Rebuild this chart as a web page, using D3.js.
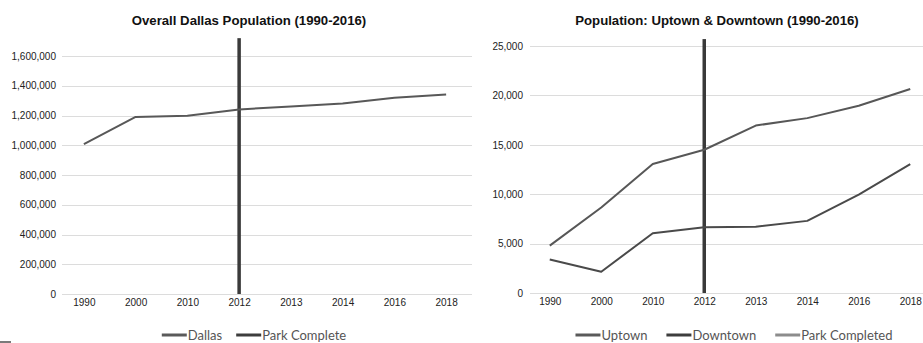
<!DOCTYPE html>
<html>
<head>
<meta charset="utf-8">
<script src="https://cdn.jsdelivr.net/npm/d3@7"></script>
<style>
  html, body { margin: 0; padding: 0; background: #fff; }
  svg { display: block; }
</style>
</head>
<body>
<svg id="chart" width="923" height="343"></svg>
<script>
// Census years shown on both panels
const years = ["1990", "2000", "2010", "2012", "2013", "2014", "2016", "2018"];

// City-wide population
const dallas = [1008000, 1190000, 1198000, 1241000, 1260000, 1280000, 1320000, 1342000];

// Neighbourhood populations
const uptown = [4800, 8650, 13050, 14500, 16950, 17700, 18950, 20650];
const downtown = [3400, 2150, 6050, 6650, 6700, 7300, 9950, 13050];

// Year the park opened, drawn as a tall marker line
const parkYear = "2012";
const parkLeft = 1720000;
const parkRight = 25700;

// Axis tick values
const leftTicks = [0, 200000, 400000, 600000, 800000, 1000000, 1200000, 1400000, 1600000];
const rightTicks = [0, 5000, 10000, 15000, 20000, 25000];

const svg = d3.select("#chart");
const fmt = d3.format(",");
const axisFont = "'Liberation Sans', Arial, sans-serif";
const legendFont = "Lato, 'Open Sans', sans-serif";

// small mark in the lower-left corner
svg.append("rect").attr("x", 0).attr("y", 341).attr("width", 11).attr("height", 2).attr("fill", "#7a7a7a");

function panel(cfg) {
  const x = d3.scalePoint().domain(years).range(cfg.xRange).padding(0.5);
  const y = d3.scaleLinear().domain(cfg.yDomain).range(cfg.yRange);
  const g = svg.append("g");

  // gridlines
  g.append("g").selectAll("line").data(cfg.ticks).join("line")
    .attr("x1", cfg.gridX[0]).attr("x2", cfg.gridX[1])
    .attr("y1", d => Math.round(y(d)) + 0.5).attr("y2", d => Math.round(y(d)) + 0.5)
    .attr("stroke", "#dcdcdc").attr("stroke-width", 1);

  // y axis labels
  const yAxis = d3.axisLeft(y).tickValues(cfg.ticks).tickFormat(fmt).tickSize(0).tickPadding(0);
  const ya = g.append("g").attr("transform", `translate(${cfg.labelX},0)`).call(yAxis);
  ya.select(".domain").remove();
  ya.selectAll("text").attr("font-family", axisFont).attr("font-size", 10).attr("fill", "#222");

  // x axis labels
  const xAxis = d3.axisBottom(x).tickSize(0).tickPadding(0);
  const xa = g.append("g").attr("transform", `translate(0,${cfg.yRange[0] + 5})`).call(xAxis);
  xa.select(".domain").remove();
  xa.selectAll("text").attr("font-family", axisFont).attr("font-size", 10).attr("fill", "#222");

  // park completion marker
  g.append("line")
    .attr("x1", x(parkYear)).attr("x2", x(parkYear))
    .attr("y1", y(0)).attr("y2", y(cfg.park))
    .attr("stroke", "#3a3a3a").attr("stroke-width", 3.5);

  // data series
  const line = d3.line().x((d, i) => x(years[i])).y(d => y(d));
  cfg.series.forEach(s => {
    g.append("path").datum(s.values)
      .attr("d", line)
      .attr("fill", "none").attr("stroke", s.color).attr("stroke-width", 2)
      .attr("stroke-linejoin", "round");
  });

  // title
  g.append("text")
    .attr("x", cfg.titleX).attr("y", 25)
    .attr("text-anchor", "middle")
    .attr("font-family", axisFont).attr("font-weight", "bold").attr("font-size", 13.2)
    .attr("fill", "#111")
    .text(cfg.title);

  // legend
  const lg = g.append("g");
  let cx = 0;
  cfg.legend.forEach(item => {
    const it = lg.append("g").attr("transform", `translate(${cx},0)`);
    it.append("line").attr("x1", 0).attr("x2", 25).attr("y1", 0).attr("y2", 0)
      .attr("stroke", item.color).attr("stroke-width", 3);
    const t = it.append("text").attr("x", 26).attr("y", 5)
      .attr("font-family", legendFont).attr("font-size", 13).attr("fill", "#555")
      .text(item.label);
    cx += 26 + t.node().getComputedTextLength() + cfg.legendGap;
  });
  const total = cx - cfg.legendGap;
  lg.attr("transform", `translate(${cfg.legendCenter - total / 2},335)`);
}

panel({
  title: "Overall Dallas Population (1990-2016)",
  titleX: 249,
  xRange: [58, 472],
  yRange: [294, 56],
  yDomain: [0, 1600000],
  ticks: leftTicks,
  gridX: [62, 472],
  labelX: 56,
  park: parkLeft,
  series: [{ values: dallas, color: "#585858" }],
  legend: [
    { label: "Dallas", color: "#5a5a5a" },
    { label: "Park Complete", color: "#3d3d3d" }
  ],
  legendGap: 14,
  legendCenter: 254
});

panel({
  title: "Population: Uptown & Downtown (1990-2016)",
  titleX: 717,
  xRange: [524, 936],
  yRange: [293, 46],
  yDomain: [0, 25000],
  ticks: rightTicks,
  gridX: [530, 923],
  labelX: 523,
  park: parkRight,
  series: [
    { values: uptown, color: "#575757" },
    { values: downtown, color: "#4a4a4a" }
  ],
  legend: [
    { label: "Uptown", color: "#5a5a5a" },
    { label: "Downtown", color: "#3d3d3d" },
    { label: "Park Completed", color: "#8c8c8c" }
  ],
  legendGap: 19,
  legendCenter: 734
});
</script>
</body>
</html>
